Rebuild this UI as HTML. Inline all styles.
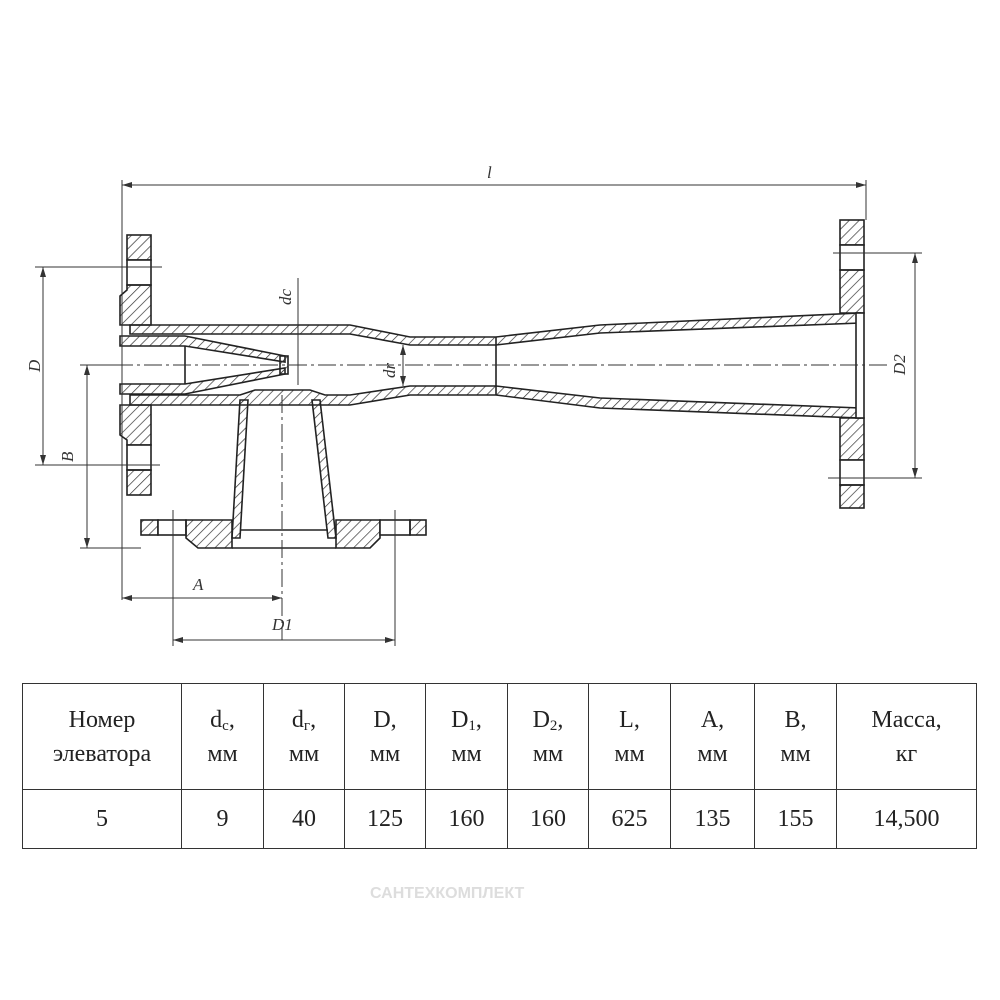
<!DOCTYPE html>
<html><head><meta charset="utf-8"><style>
body{margin:0;background:#fff;width:1000px;height:1000px;overflow:hidden}
svg{position:absolute;left:0;top:0}
table{position:absolute;left:22px;top:683px;border-collapse:collapse;font-family:"Liberation Serif",serif;color:#222}
td{border:1.5px solid #333;text-align:center;padding:0;font-size:24px;line-height:34px}
sub{font-size:15px;line-height:0;vertical-align:-3px}
</style></head><body>
<svg width="1000" height="1000" viewBox="0 0 1000 1000">
<defs><pattern id="h" width="7" height="7" patternUnits="userSpaceOnUse" patternTransform="rotate(45)"><line x1="0" y1="0" x2="0" y2="7" stroke="#333" stroke-width="1.4"/></pattern>
<marker id="a" markerWidth="10" markerHeight="6" refX="10" refY="3" orient="auto-start-reverse" markerUnits="userSpaceOnUse"><path d="M0 0L10 3L0 6Z" fill="#333"/></marker></defs>
<g stroke="#222" stroke-width="1.6" fill="url(#h)">
<rect x="127" y="235" width="24" height="25"/><rect x="127" y="260" width="24" height="25" fill="#fff"/>
<path d="M127 285H151V325H120V296L127 290Z"/>
<path d="M120 405H151V445H127V440L120 435Z"/>
<rect x="127" y="445" width="24" height="25" fill="#fff"/><rect x="127" y="470" width="24" height="25"/>
<path d="M130 325H350L410 337H496L600 325L860 313V323L600 333L496 345H410L350 334H130Z"/>
<path d="M130 395H240L255 390H310L325 395H350L410 386H496L600 398L860 408V418L600 408L496 395H410L350 405H130Z"/>
<path d="M120 336H185L285 356V362L185 346H120Z"/>
<path d="M120 384H185L285 368V374L185 394H120Z"/>
<rect x="280" y="356" width="8" height="18"/>
<line x1="185" y1="346" x2="185" y2="384"/>
<line x1="496" y1="337" x2="496" y2="395"/>
<rect x="840" y="220" width="24" height="25"/><rect x="840" y="245" width="24" height="25" fill="#fff"/>
<path d="M840 270H864V313H840Z"/>
<path d="M840 418H864V460H840Z"/>
<rect x="840" y="460" width="24" height="25" fill="#fff"/><rect x="840" y="485" width="24" height="23"/>
<rect x="856" y="313" width="8" height="105" fill="#fff"/>
<path d="M240 400L248 400L240 538H232Z"/>
<path d="M312 400L320 400L336 538H328Z"/>
<line x1="240" y1="530" x2="328" y2="530"/>
<rect x="141" y="520" width="17" height="15"/><rect x="158" y="520" width="28" height="15" fill="#fff"/>
<path d="M186 520H232V548H198L186 538Z"/>
<path d="M336 520H380V538L370 548H336Z"/>
<rect x="380" y="520" width="30" height="15" fill="#fff"/><rect x="410" y="520" width="16" height="15"/>
<line x1="232" y1="548" x2="336" y2="548"/>
</g>
<g stroke="#333" stroke-width="1" fill="none">
<line x1="115" y1="365" x2="890" y2="365" stroke-dasharray="18 4 3 4"/>
<line x1="282" y1="395" x2="282" y2="640" stroke-dasharray="18 4 3 4"/>
<line x1="122" y1="180" x2="122" y2="600"/><line x1="866" y1="180" x2="866" y2="220"/>
<line x1="122" y1="185" x2="866" y2="185" marker-start="url(#a)" marker-end="url(#a)"/>
<line x1="35" y1="267" x2="162" y2="267"/><line x1="35" y1="465" x2="160" y2="465"/>
<line x1="43" y1="267" x2="43" y2="465" marker-start="url(#a)" marker-end="url(#a)"/>
<line x1="80" y1="365" x2="120" y2="365"/><line x1="80" y1="548" x2="141" y2="548"/>
<line x1="87" y1="365" x2="87" y2="548" marker-start="url(#a)" marker-end="url(#a)"/>
<line x1="122" y1="598" x2="282" y2="598" marker-start="url(#a)" marker-end="url(#a)"/>
<line x1="173" y1="510" x2="173" y2="646"/><line x1="395" y1="510" x2="395" y2="646"/>
<line x1="173" y1="640" x2="395" y2="640" marker-start="url(#a)" marker-end="url(#a)"/>
<line x1="833" y1="253" x2="922" y2="253"/><line x1="828" y1="478" x2="922" y2="478"/>
<line x1="915" y1="253" x2="915" y2="478" marker-start="url(#a)" marker-end="url(#a)"/>
<line x1="298" y1="278" x2="298" y2="385"/>
<line x1="403" y1="345" x2="403" y2="386" marker-start="url(#a)" marker-end="url(#a)"/>
</g>
<g fill="#333" font-family="Liberation Serif,serif" font-style="italic" font-size="17">
<text x="487" y="178">l</text>
<text transform="translate(40,372) rotate(-90)">D</text>
<text transform="translate(73,462) rotate(-90)">B</text>
<text x="193" y="590">A</text>
<text x="272" y="630">D1</text>
<text transform="translate(905,375) rotate(-90)">D2</text>
<text transform="translate(291,305) rotate(-90)">dc</text>
<text transform="translate(395,378) rotate(-90)">dr</text>
</g>
<text x="370" y="898" font-family="Liberation Sans,sans-serif" font-size="16" fill="#ddd" font-weight="bold">САНТЕХКОМПЛЕКТ</text>
</svg>
<table>
<tr style="height:106px"><td style="width:158px">Номер<br>элеватора</td><td style="width:81px">d<sub>c</sub>,<br>мм</td><td style="width:80px">d<sub>г</sub>,<br>мм</td><td style="width:80px">D,<br>мм</td><td style="width:81px">D<sub>1</sub>,<br>мм</td><td style="width:80px">D<sub>2</sub>,<br>мм</td><td style="width:81px">L,<br>мм</td><td style="width:83px">A,<br>мм</td><td style="width:81px">B,<br>мм</td><td style="width:139px">Масса,<br>кг</td></tr>
<tr style="height:59px;font-size:26px"><td>5</td><td>9</td><td>40</td><td>125</td><td>160</td><td>160</td><td>625</td><td>135</td><td>155</td><td>14,500</td></tr>
</table>
</body></html>
